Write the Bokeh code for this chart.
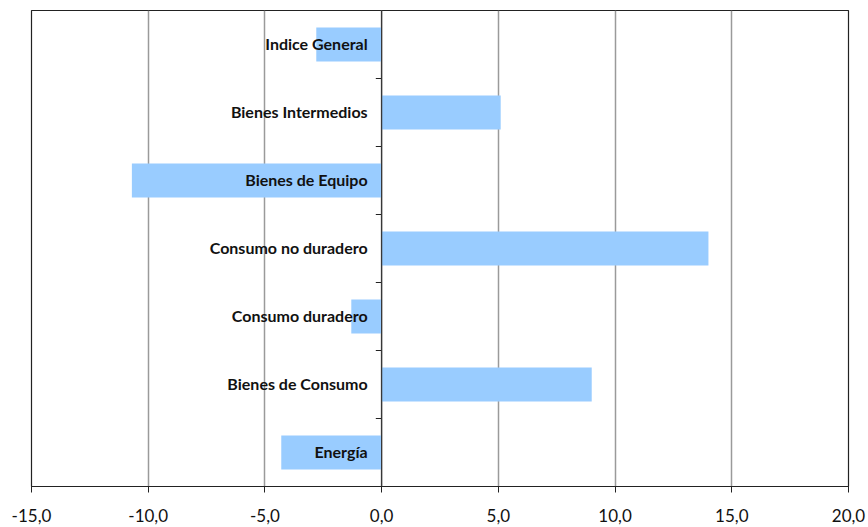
from bokeh.plotting import figure
from bokeh.models import Range1d, FixedTicker, Span, ColumnDataSource
from bokeh.core.properties import value
from bokeh.embed import file_html
from bokeh.resources import INLINE

categories = ["Indice General", "Bienes Intermedios", "Bienes de Equipo",
              "Consumo no duradero", "Consumo duradero", "Bienes de Consumo", "Energía"]
values = [-2.8, 5.1, -10.7, 14.0, -1.3, 9.0, -4.3]
x_ticks = [-15, -10, -5, 0, 5, 10, 15, 20]
x_tick_labels = ["-15,0", "-10,0", "-5,0", "0,0", "5,0", "10,0", "15,0", "20,0"]

n = len(categories)
pos = list(range(n))
src = ColumnDataSource(dict(cat=categories, val=values, y=pos, zero=[0] * n))

p = figure(width=868, height=527, output_backend="svg", toolbar_location=None,
           x_range=Range1d(x_ticks[0], x_ticks[-1]), y_range=Range1d(n - 0.5, -0.5),
           y_axis_location=None, min_border_left=31, min_border_right=20,
           min_border_top=10, min_border_bottom=41)
p.background_fill_color = "white"
p.border_fill_color = "white"
p.outline_line_color = "#222222"
p.outline_line_width = 1.2

p.xgrid.ticker = FixedTicker(ticks=x_ticks)
p.xgrid.grid_line_color = "#9a9a9a"
p.xgrid.grid_line_width = 1.5
p.ygrid.grid_line_color = None

p.hbar(y="y", left="zero", right="val", height=0.5, source=src,
       fill_color="#99CCFF", line_color=None)

p.add_layout(Span(location=0, dimension="height", line_color="#333333", line_width=1.2))

bounds = [i + 0.5 for i in range(n - 1)]
p.segment(x0=[0] * len(bounds), x1=[-0.25] * len(bounds), y0=bounds, y1=bounds,
          line_color="#222222", line_width=1)

p.text(x="zero", y="y", text="cat", source=src, x_offset=-14, y_offset=-1,
       text_align="right", text_baseline="middle", text_font=value("Lato"),
       text_font_style="bold", text_font_size="16px", text_color="#111111")

ax = p.xaxis[0]
ax.ticker = FixedTicker(ticks=x_ticks)
ax.major_label_overrides = {t: l for t, l in zip(x_ticks, x_tick_labels)}
ax.major_label_text_font = "Lato"
ax.major_label_text_font_size = "17px"
ax.major_label_text_color = "#111111"
ax.major_label_standoff = 16
ax.major_tick_in = 0
ax.major_tick_out = 6
ax.major_tick_line_color = "#222222"
ax.minor_tick_line_color = None
ax.axis_line_color = "#222222"

open("out.html", "w").write(file_html(p, INLINE))
